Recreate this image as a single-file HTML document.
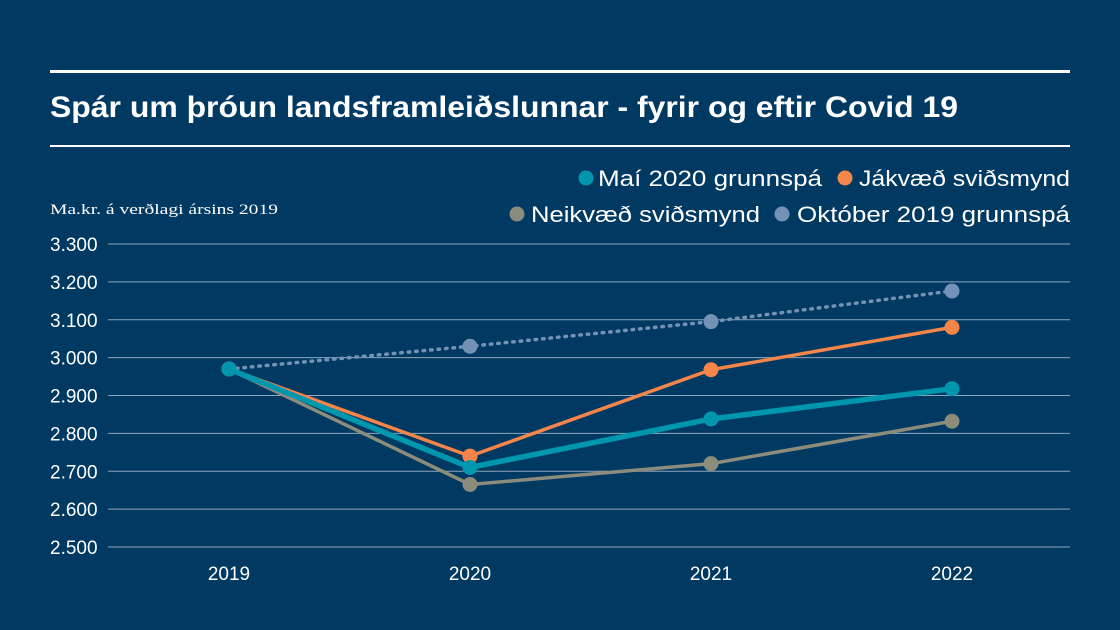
<!DOCTYPE html>
<html><head><meta charset="utf-8"><style>
html,body{margin:0;padding:0;background:#003961;}
svg{display:block;font-family:"Liberation Sans",sans-serif;}
</style></head><body>
<svg id="chart" width="1120" height="630" viewBox="0 0 1120 630">
<rect x="0" y="0" width="1120" height="630" fill="#003961"/>
<rect x="50" y="70" width="1020" height="3" fill="#ffffff"/>
<text x="50" y="117" fill="#ffffff" font-size="30" font-weight="bold" textLength="908" lengthAdjust="spacingAndGlyphs">Spár um þróun landsframleiðslunnar - fyrir og eftir Covid 19</text>
<rect x="50" y="145" width="1020" height="2" fill="#ffffff"/>
<text x="50" y="214" fill="#ffffff" font-size="15" font-family="Liberation Serif, serif" textLength="228" lengthAdjust="spacingAndGlyphs">Ma.kr. á verðlagi ársins 2019</text>
<g id="legend"></g>
<g id="grid"></g>
<g id="ylabels"></g>
<g id="xlabels"></g>
<g id="series"></g>
</svg>
<script>
const categories = ["2019","2020","2021","2022"];
const yTicks = [2500,2600,2700,2800,2900,3000,3100,3200,3300];
const yTickLabels = ["2.500","2.600","2.700","2.800","2.900","3.000","3.100","3.200","3.300"];
const seriesNames = ["Maí 2020 grunnspá","Jákvæð sviðsmynd","Neikvæð sviðsmynd","Október 2019 grunnspá"];
const octoberValues = [2970,3030,3095,3176];
const negativeValues = [2970,2665,2720,2832];
const positiveValues = [2970,2740,2968,3080];
const mayValues = [2970,2710,2838,2918];

const NS="http://www.w3.org/2000/svg";
const x0=229, xStep=241, yMin=2500, yMax=3300, yTop=244, yBot=547;
function xPos(i){return x0+i*xStep;}
function yPos(v){return yBot-(v-yMin)/(yMax-yMin)*(yBot-yTop);}
function mk(tag,attrs,parent){const e=document.createElementNS(NS,tag);for(const k in attrs)e.setAttribute(k,attrs[k]);parent.appendChild(e);return e;}

const grid=document.getElementById('grid'), yl=document.getElementById('ylabels'), xl=document.getElementById('xlabels');
yTicks.forEach((t,i)=>{
  const l=mk('line',{x1:108,x2:1070,y1:yPos(t),y2:yPos(t),stroke:'#8fa6bd','stroke-width':1},grid);
  
  
  const tx=mk('text',{x:50,y:yPos(t)+7,fill:'#ffffff','font-size':19},yl);
  tx.textContent=yTickLabels[i];
  
  
});
categories.forEach((c,i)=>{
  const tx=mk('text',{x:xPos(i),y:580,fill:'#ffffff','font-size':19,'text-anchor':'middle'},xl);
  tx.textContent=c;
  
  
});

const ser=document.getElementById('series');
const defs=[
 {vals:octoberValues,color:'#7392b6',w:3.5,dash:'1.5 6',name:'series-oktober-2019'},
 {vals:negativeValues,color:'#8b8c7c',w:3.5,dash:null,name:'series-neikvaed'},
 {vals:positiveValues,color:'#f58549',w:3.5,dash:null,name:'series-jakvaed'},
 {vals:mayValues,color:'#0096ae',w:5.5,dash:null,name:'series-mai-2020'}
];
defs.forEach(d=>{
  const g=mk('g',{},ser);
  
  
  const pts=d.vals.map((v,i)=>xPos(i)+','+yPos(v)).join(' ');
  const a={points:pts,fill:'none',stroke:d.color,'stroke-width':d.w,'stroke-linecap':'round','stroke-linejoin':'round'};
  if(d.dash)a['stroke-dasharray']=d.dash;
  const pl=mk('polyline',a,g);
  
  
  d.vals.forEach((v,i)=>{
    const c=mk('circle',{cx:xPos(i),cy:yPos(v),r:7.5,fill:d.color},g);
    
    
  });
});

const lg=document.getElementById('legend');
const legendItems=[
 {x:586,y:178,tx:598,tw:224,color:'#0096ae',name:seriesNames[0]},
 {x:845,y:178,tx:859,tw:211,color:'#f58549',name:seriesNames[1]},
 {x:517,y:214,tx:531,tw:229,color:'#8b8c7c',name:seriesNames[2]},
 {x:782,y:214,tx:797,tw:273,color:'#7392b6',name:seriesNames[3]}
];
legendItems.forEach(it=>{
  const g=mk('g',{},lg);
  
  
  mk('circle',{cx:it.x,cy:it.y,r:7.5,fill:it.color},g);
  const t=mk('text',{x:it.tx,y:it.y+8,fill:'#ffffff','font-size':22,textLength:it.tw,lengthAdjust:'spacingAndGlyphs'},g);
  t.textContent=it.name;
});
</script>
</body></html>
